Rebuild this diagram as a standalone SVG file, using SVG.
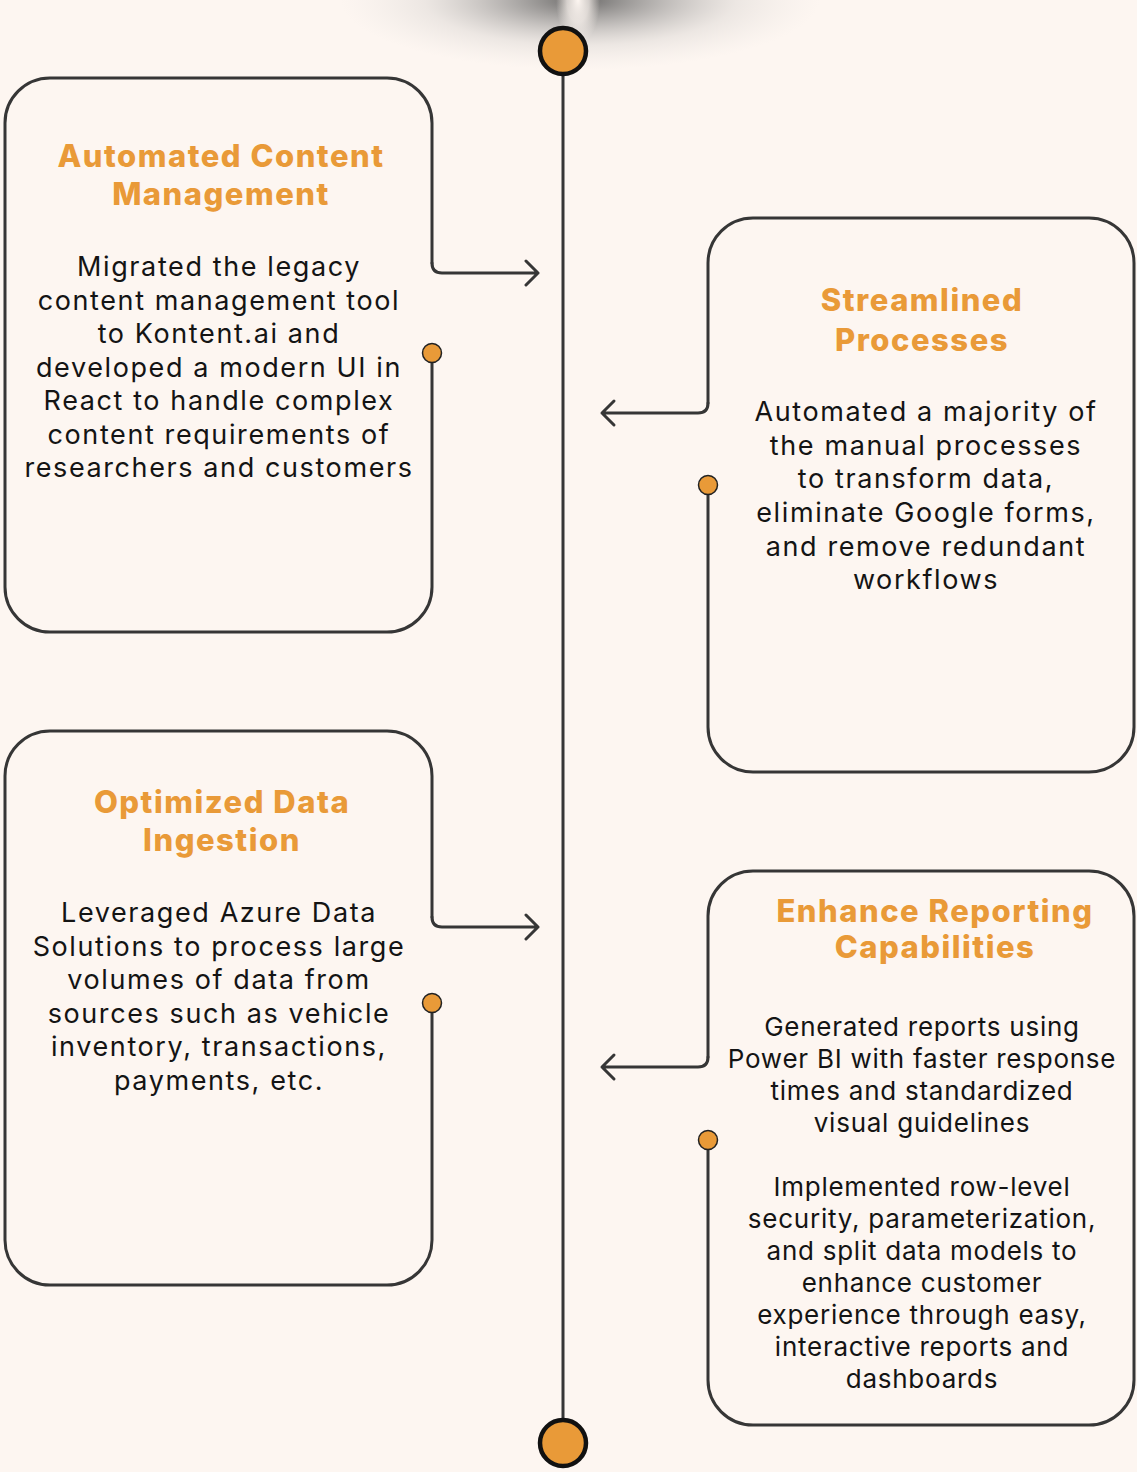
<svg xmlns="http://www.w3.org/2000/svg" width="1137" height="1472" viewBox="0 0 1137 1472">
<defs>
<radialGradient id="shL" cx="0.5" cy="0.5" r="0.5">
<stop offset="0" stop-color="#444" stop-opacity="0.8"/>
<stop offset="0.3" stop-color="#777" stop-opacity="0.55"/>
<stop offset="0.65" stop-color="#aaa" stop-opacity="0.2"/>
<stop offset="1" stop-color="#ccc" stop-opacity="0"/>
</radialGradient>
<radialGradient id="hl" cx="0.5" cy="0.5" r="0.5">
<stop offset="0" stop-color="#fdf6f1" stop-opacity="1"/>
<stop offset="0.5" stop-color="#fdf6f1" stop-opacity="0.7"/>
<stop offset="1" stop-color="#fdf6f1" stop-opacity="0"/>
</radialGradient>
<style>
.box{fill:none;stroke:#363636;stroke-width:3;stroke-linecap:round;stroke-linejoin:round}
.con{fill:none;stroke:#363636;stroke-width:3;stroke-linecap:round;stroke-linejoin:round}
.dot{fill:#E99A38;stroke:#222;stroke-width:1.5}
.end{fill:#E99A38;stroke:#111;stroke-width:4.5}
.t{font-family:Inter,"Liberation Sans",sans-serif;font-weight:800;font-size:31px;letter-spacing:1.5px;fill:#E99A38;text-anchor:middle}
.b{font-family:Inter,"Liberation Sans",sans-serif;font-size:27px;letter-spacing:1.6px;fill:#141414;text-anchor:middle}
.b2{font-family:Inter,"Liberation Sans",sans-serif;font-size:26px;letter-spacing:0.75px;fill:#141414;text-anchor:middle}
</style>
</defs>
<rect width="1137" height="1472" fill="#FDF6F1"/>
<g id="shadow">
<ellipse cx="580" cy="0" rx="240" ry="70" fill="url(#shL)"/>
<ellipse cx="578" cy="0" rx="22" ry="45" fill="url(#hl)"/>
</g>
<g id="connectors">
<line x1="563" y1="74" x2="563" y2="1420" stroke="#363636" stroke-width="3"/>
<path class="con" d="M432,263 Q432,273 442,273 L538,273 M526,261 L538,273 L526,285"/>
<path class="con" d="M708,403 Q708,413 698,413 L602,413 M614,401 L602,413 L614,425"/>
<path class="con" d="M432,917 Q432,927 442,927 L538,927 M526,915 L538,927 L526,939"/>
<path class="con" d="M708,1057 Q708,1067 698,1067 L602,1067 M614,1055 L602,1067 L614,1079"/>
</g>
<g id="start-node"><circle class="end" cx="563" cy="51" r="23"/></g>
<g id="end-node"><circle class="end" cx="563" cy="1443" r="23"/></g>
<g id="node-automated-content">
<path class="box" d="M432,263 L432,123 A45,45 0 0 0 387,78 L50,78 A45,45 0 0 0 5,123 L5,587 A45,45 0 0 0 50,632 L387,632 A45,45 0 0 0 432,587 L432,362"/>
<circle class="dot" cx="432" cy="353" r="9.5"/>
<text class="t" x="221" y="167">Automated Content</text>
<text class="t" x="221" y="205">Management</text>
<text class="b" x="219" y="276">Migrated the legacy</text>
<text class="b" x="219" y="309.5">content management tool</text>
<text class="b" x="219" y="343">to Kontent.ai and</text>
<text class="b" x="219" y="376.5">developed a modern UI in</text>
<text class="b" x="219" y="410">React to handle complex</text>
<text class="b" x="219" y="443.5">content requirements of</text>
<text class="b" x="219" y="477">researchers and customers</text>
</g>
<g id="node-streamlined">
<path class="box" d="M708,403 L708,263 A45,45 0 0 1 753,218 L1089,218 A45,45 0 0 1 1134,263 L1134,727 A45,45 0 0 1 1089,772 L753,772 A45,45 0 0 1 708,727 L708,494"/>
<circle class="dot" cx="708" cy="485" r="9.5"/>
<text class="t" x="922" y="311">Streamlined</text>
<text class="t" x="922" y="351">Processes</text>
<text class="b" x="926" y="421">Automated a majority of</text>
<text class="b" x="926" y="455">the manual processes</text>
<text class="b" x="926" y="488">to transform data,</text>
<text class="b" x="926" y="522">eliminate Google forms,</text>
<text class="b" x="926" y="556">and remove redundant</text>
<text class="b" x="926" y="589">workflows</text>
</g>
<g id="node-optimized-data">
<path class="box" d="M432,917 L432,776 A45,45 0 0 0 387,731 L50,731 A45,45 0 0 0 5,776 L5,1240 A45,45 0 0 0 50,1285 L387,1285 A45,45 0 0 0 432,1240 L432,1012"/>
<circle class="dot" cx="432" cy="1003" r="9.5"/>
<text class="t" x="222" y="813">Optimized Data</text>
<text class="t" x="222" y="851">Ingestion</text>
<text class="b" x="219" y="922">Leveraged Azure Data</text>
<text class="b" x="219" y="956">Solutions to process large</text>
<text class="b" x="219" y="989">volumes of data from</text>
<text class="b" x="219" y="1023">sources such as vehicle</text>
<text class="b" x="219" y="1056">inventory, transactions,</text>
<text class="b" x="219" y="1090">payments, etc.</text>
</g>
<g id="node-enhance-reporting">
<path class="box" d="M708,1057 L708,916 A45,45 0 0 1 753,871 L1089,871 A45,45 0 0 1 1134,916 L1134,1380 A45,45 0 0 1 1089,1425 L753,1425 A45,45 0 0 1 708,1380 L708,1149"/>
<circle class="dot" cx="708" cy="1140" r="9.5"/>
<text class="t" x="935" y="922">Enhance Reporting</text>
<text class="t" x="935" y="958">Capabilities</text>
<text class="b2" x="922" y="1036">Generated reports using</text>
<text class="b2" x="922" y="1068">Power BI with faster response</text>
<text class="b2" x="922" y="1100">times and standardized</text>
<text class="b2" x="922" y="1132">visual guidelines</text>
<text class="b2" x="922" y="1196">Implemented row-level</text>
<text class="b2" x="922" y="1228">security, parameterization,</text>
<text class="b2" x="922" y="1260">and split data models to</text>
<text class="b2" x="922" y="1292">enhance customer</text>
<text class="b2" x="922" y="1324">experience through easy,</text>
<text class="b2" x="922" y="1356">interactive reports and</text>
<text class="b2" x="922" y="1388">dashboards</text>
</g>
</svg>
